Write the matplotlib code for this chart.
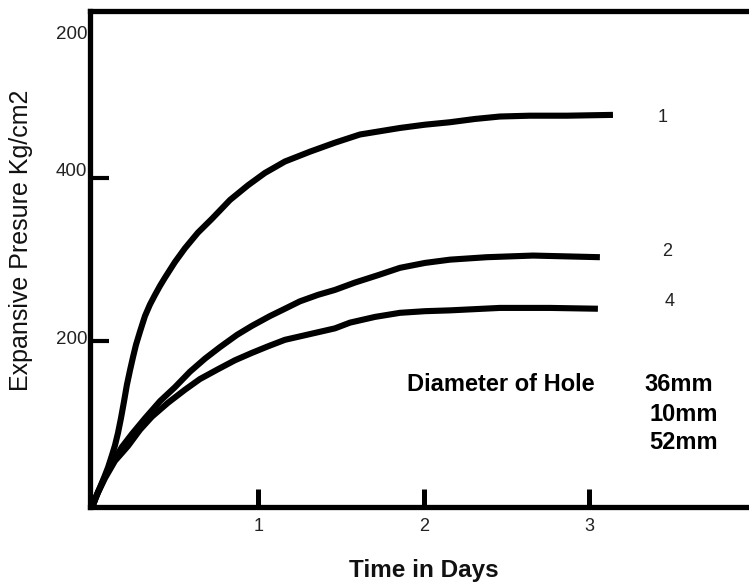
import numpy as np
import matplotlib
matplotlib.use("Agg")
import matplotlib.pyplot as plt

plt.rcParams['font.family'] = ['Liberation Sans', 'DejaVu Sans']

# curves (days, kg/cm2)
days1 = [0, 0.018, 0.042, 0.066, 0.091, 0.115, 0.133, 0.151, 0.169, 0.187, 0.205, 0.224, 0.242,
         0.26, 0.284, 0.314, 0.344, 0.375, 0.405, 0.435, 0.495, 0.556, 0.634, 0.719, 0.828,
         0.937, 1.039, 1.16, 1.311, 1.462, 1.613, 1.734, 1.855, 2.006, 2.157, 2.308, 2.459,
         2.64, 2.864, 3.142]
pres1 = [0, 10, 21, 33, 46, 61, 73, 88, 106, 126, 147, 165, 181,
         196, 212, 231, 245, 257, 268, 278, 297, 314, 333, 350, 373,
         391, 406, 420, 432, 443, 453, 457, 461, 465, 468, 472, 475,
         476, 476, 477]

days2 = [0, 0.03, 0.073, 0.121, 0.175, 0.236, 0.314, 0.405, 0.495, 0.586, 0.677, 0.767, 0.87,
         0.96, 1.069, 1.16, 1.25, 1.36, 1.462, 1.583, 1.722, 1.855, 2.006, 2.157, 2.38,
         2.659, 3.063]
pres2 = [0, 16, 35, 53, 71, 87, 106, 127, 144, 163, 179, 193, 208,
         219, 231, 240, 249, 257, 263, 272, 281, 290, 296, 300, 303,
         305, 303]

days4 = [0, 0.03, 0.073, 0.133, 0.211, 0.284, 0.356, 0.453, 0.556, 0.646, 0.755, 0.858, 0.96,
         1.057, 1.16, 1.311, 1.462, 1.553, 1.704, 1.855, 2.006, 2.157, 2.459, 2.761, 3.051]
pres4 = [0, 15, 33, 54, 72, 92, 108, 125, 141, 154, 166, 177, 186,
         194, 202, 209, 216, 223, 230, 235, 237, 238, 241, 241, 240]

curve_names = ['1', '2', '4']
hole_sizes = ['36mm', '10mm', '52mm']

xticks = [1, 2, 3]
ytick_marks = [200, 400]
ytick_labels = ['200', '400', '200']
ytick_label_pos = [205, 410, 578]

fig = plt.figure(figsize=(7.49, 5.86), dpi=100)
ax = fig.add_axes([90/749, 1 - 507/586, 1 - 90/749, (507 - 11)/586])

for d, p in [(days1, pres1), (days2, pres2), (days4, pres4)]:
    ax.plot(d, p, color='black', lw=4.4, solid_capstyle='butt', solid_joinstyle='round')

ax.set_xlim(-0.018, 3.964)
ax.set_ylim(-2.4, 604)

for s in ['left', 'bottom', 'top']:
    ax.spines[s].set_linewidth(3.8)
ax.spines['right'].set_visible(False)

ax.set_xticks(xticks)
ax.set_xticklabels([str(t) for t in xticks])
ax.tick_params(axis='x', direction='in', length=13, width=3.6, pad=8,
               labelsize=13, labelcolor='#222222')

ax.set_yticks(ytick_marks)
ax.set_yticklabels([])
ax.tick_params(axis='y', which='major', direction='in', length=14, width=3.0)
ax.set_yticks(ytick_label_pos, minor=True)
ax.set_yticklabels(ytick_labels, minor=True)
ax.tick_params(axis='y', which='minor', length=0, pad=2, labelsize=13.5, labelcolor='#222222')

ax.text(3.41, 474, curve_names[0], fontsize=13, color='#222222', va='center')
ax.text(3.44, 310, curve_names[1], fontsize=13, color='#222222', va='center')
ax.text(3.455, 249, curve_names[2], fontsize=13, color='#222222', va='center')

ax.text(1.90, 147, 'Diameter of Hole', fontsize=17, fontweight='bold', va='center')
ax.text(3.335, 147, hole_sizes[0], fontsize=17, fontweight='bold', va='center')
ax.text(3.36, 111, hole_sizes[1], fontsize=17, fontweight='bold', va='center')
ax.text(3.36, 76, hole_sizes[2], fontsize=17, fontweight='bold', va='center')

fig.text(424/749, 1 - 571/586, 'Time in Days', fontsize=17.5, fontweight='bold',
         ha='center', va='center', color='#111111')
fig.text(21/749, 1 - 240/586, 'Expansive Presure Kg/cm2', fontsize=18, rotation=90,
         ha='center', va='center', color='#111111')

fig.savefig('out.png', dpi=100)
